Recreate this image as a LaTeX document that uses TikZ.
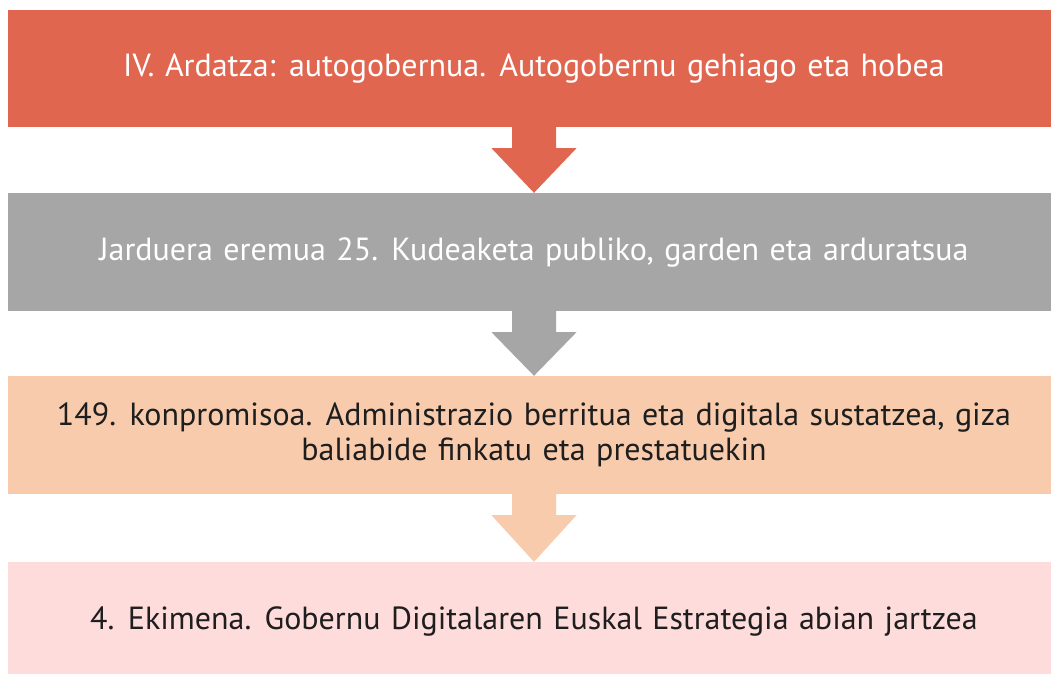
\documentclass[tikz,border=0pt]{standalone}
\usepackage{fontspec}
\setmainfont{PT Sans}
\usetikzlibrary{calc}
\definecolor{cRed}{HTML}{E06650}
\definecolor{cGray}{HTML}{A6A6A6}
\definecolor{cPeach}{HTML}{F8CBAD}
\definecolor{cPink}{HTML}{FFDCDC}
\definecolor{cDark}{HTML}{1E1E1E}
\newcommand\stageboxfont{\fontsize{32}{34.5}\selectfont\spaceskip=10.5pt\relax}
\tikzset{
  stagebox/.style={rectangle, inner sep=0pt, minimum width=1052pt, minimum height=118pt,
    align=center, font=\stageboxfont}
}
\newcommand\flowarrowshape[3]{%
  \fill[#3] ($(#1.south)+(-22,1)$) -- ($(#1.south)+(-22,-21)$) -- ($(#1.south)+(-42.5,-21)$)
    -- (#2.north) -- ($(#1.south)+(42.5,-21)$) -- ($(#1.south)+(22,-21)$) -- ($(#1.south)+(22,1)$) -- cycle;}
\begin{document}
\begin{tikzpicture}[x=1pt,y=1pt]
\clip (0,0) rectangle (1051,673);
\fill[white] (0,0) rectangle (1051,673);
\node[stagebox, fill=cRed, text=white, minimum height=117pt] (a) at (534,604.5)
  {IV. Ardatza: autogobernua. Autogobernu gehiago eta hobea};
\node[stagebox, fill=cGray, text=white] (b) at (534,421)
  {Jarduera eremua 25. Kudeaketa publiko, garden eta arduratsua};
\node[stagebox, fill=cPeach, text=cDark] (c) at (534,238)
  {149. konpromisoa. Administrazio berritua eta digitala sustatzea, giza\\baliabide finkatu eta prestatuekin};
\node[stagebox, fill=cPink, text=cDark] (d) at (534,52)
  {4. Ekimena. Gobernu Digitalaren Euskal Estrategia abian jartzea};
\flowarrowshape{a}{b}{cRed}
\flowarrowshape{b}{c}{cGray}
\flowarrowshape{c}{d}{cPeach}
\end{tikzpicture}
\end{document}
